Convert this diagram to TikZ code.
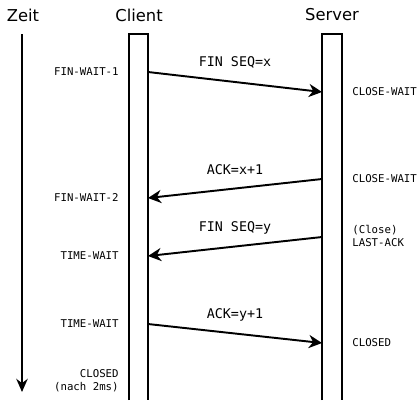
\documentclass[tikz,border=0pt]{standalone}
\usepackage{fontspec}
\setmainfont{DejaVu Sans}
\setmonofont{DejaVu Sans Mono}
\usetikzlibrary{arrows.meta}

\begin{document}
\begin{tikzpicture}[
    x=0.02cm, y=-0.02cm,
    head/.style={font=\fontsize{9.3}{11}\selectfont},
    msglabel/.style={font=\ttfamily\fontsize{7.6}{9}\selectfont},
    state/.style={font=\ttfamily\fontsize{6.1}{7.4}\selectfont,inner sep=0pt},
    lstate/.style={state,anchor=east,align=right},
    rstate/.style={state,anchor=west,align=left},
    lane/.style={line width=1.1pt},
    msg/.style={-{Stealth[length=7.5pt,width=7.5pt]},line width=1.1pt}
]
\useasboundingbox (0,0) rectangle (418,400);

%%% headers
\node[head] (zeit)   at (23,15)  {Zeit};
\node[head] (client) at (139,15) {Client};
\node[head] (server) at (332,15) {Server};

%%% time axis
\coordinate (t0) at (22,34);
\coordinate (t1) at (22,392);
\draw[-{Stealth[length=7.5pt,width=6.5pt]},line width=1.1pt] (t0) -- (t1);

%%% lanes (open at the bottom)
\draw[lane] (129,400) -- (129,34) -- (148,34) -- (148,400);
\draw[lane] (322,400) -- (322,34) -- (342,34) -- (342,400);

% message end points on the lanes
\coordinate (c1) at (148,72);
\coordinate (s1) at (322,92);
\coordinate (s2) at (322,179);
\coordinate (c2) at (148,198);
\coordinate (s3) at (322,237);
\coordinate (c3) at (148,256);
\coordinate (c4) at (148,324);
\coordinate (s4) at (322,343);

%%% messages
\draw[msg] (c1) -- (s1);
\draw[msg] (s2) -- (c2);
\draw[msg] (s3) -- (c3);
\draw[msg] (c4) -- (s4);
\node[msglabel] (m1) at (235,62)  {FIN SEQ=x};
\node[msglabel] (m2) at (235,170) {ACK=x+1};
\node[msglabel] (m3) at (235,228) {FIN SEQ=y};
\node[msglabel] (m4) at (235,315) {ACK=y+1};

%%% client states
\node[lstate] (cs1) at (119,72)  {FIN-WAIT-1};
\node[lstate] (cs2) at (119,198) {FIN-WAIT-2};
\node[lstate] (cs3) at (119,256) {TIME-WAIT};
\node[lstate] (cs4) at (119,324) {TIME-WAIT};
\node[lstate] (cs5) at (119,381) {CLOSED\\(nach 2ms)};

%%% server states
\node[rstate] (ss1) at (352,92)  {CLOSE-WAIT};
\node[rstate] (ss2) at (352,179) {CLOSE-WAIT};
\node[rstate] (ss3) at (352,236) {(Close)\\LAST-ACK};
\node[rstate] (ss4) at (352,343) {CLOSED};
\end{tikzpicture}
\end{document}
